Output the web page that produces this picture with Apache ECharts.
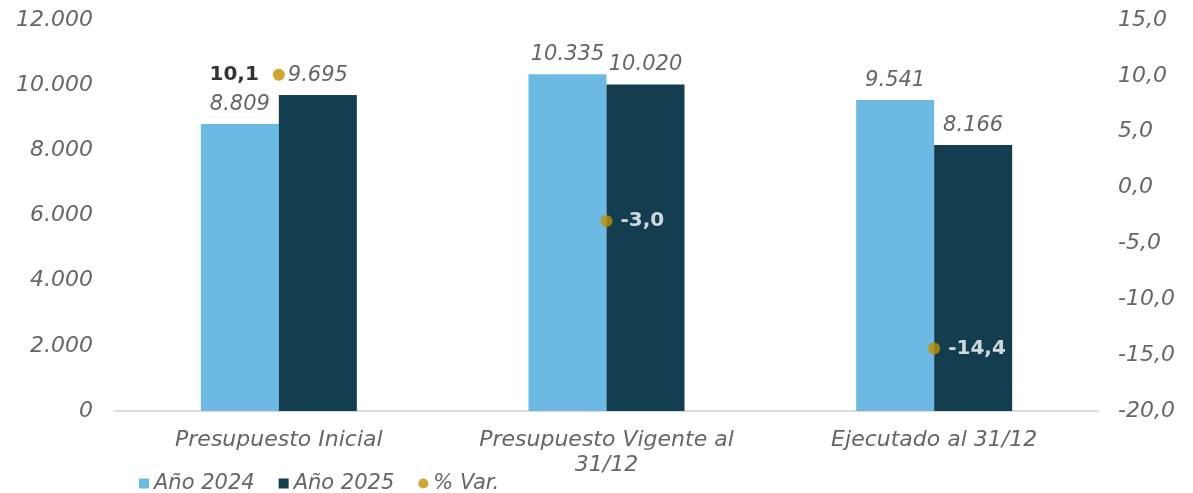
<!DOCTYPE html>
<html><head><meta charset="utf-8">
<script src="https://cdn.jsdelivr.net/npm/echarts@6/dist/echarts.min.js"></script>
<style>html,body{margin:0;padding:0;background:#fff}#c{width:1193px;height:493px}</style>
</head><body><div id="c"></div>
<script>
const categories = ['Presupuesto Inicial', 'Presupuesto Vigente al\n31/12', 'Ejecutado al 31/12'];
const serie2024 = [8809, 10335, 9541];
const serie2025 = [9695, 10020, 8166];
const varPct = [10.1, -3.0, -14.4];
const leftTicks = [0, 2000, 4000, 6000, 8000, 10000, 12000];
const rightTicks = [-20, -15, -10, -5, 0, 5, 10, 15];

function fmtThousands(v){ return String(Math.round(v)).replace(/\B(?=(\d{3})+(?!\d))/g, '.'); }
function fmtDec(v){ return v.toFixed(1).replace('.', ','); }

const FONT = '"DejaVu Sans", sans-serif';
const GREY = '#666666';
const chart = echarts.init(document.getElementById('c'));
chart.setOption({
  animation: false,
  textStyle: { fontFamily: FONT },
  grid: { left: 115, right: 95, top: 20, bottom: 82 },
  legend: {
    left: 134, top: 468, itemWidth: 10, itemHeight: 10, itemGap: 24,
    textStyle: { fontSize: 21, fontStyle: 'italic', color: GREY, fontFamily: FONT },
    data: [{name:'Año 2024', icon:'rect'}, {name:'Año 2025', icon:'rect'}, {name:'% Var.', icon:'circle'}]
  },
  xAxis: {
    type: 'category', data: categories,
    axisLine: { lineStyle: { color: '#d0d0d0', width: 1.5 } },
    axisTick: { show: false },
    axisLabel: { fontSize: 22, fontStyle: 'italic', color: GREY, margin: 17, lineHeight: 25, interval: 0 }
  },
  yAxis: [{
    type: 'value', min: 0, max: 12000, interval: 2000,
    splitLine: { show: false }, axisLine: { show: false }, axisTick: { show: false },
    axisLabel: { fontSize: 22, fontStyle: 'italic', color: GREY, margin: 22, formatter: v => fmtThousands(v) }
  }, {
    type: 'value', min: -20, max: 15, interval: 5,
    splitLine: { show: false }, axisLine: { show: false }, axisTick: { show: false },
    axisLabel: { fontSize: 22, fontStyle: 'italic', color: GREY, margin: 20, formatter: v => fmtDec(v) }
  }],
  series: [{
    name: 'Año 2024', type: 'bar', data: serie2024, barWidth: 78, barGap: '0%',
    itemStyle: { color: '#6CB9E4' },
    label: { show: true, position: 'top', distance: 9, fontSize: 21, fontStyle: 'italic', color: GREY, formatter: p => fmtThousands(p.value) }
  }, {
    name: 'Año 2025', type: 'bar', data: serie2025, barWidth: 78,
    itemStyle: { color: '#123E50' },
    label: { show: true, position: 'top', distance: 9, fontSize: 21, fontStyle: 'italic', color: GREY, formatter: p => fmtThousands(p.value) }
  }, {
    name: '% Var.', type: 'scatter', yAxisIndex: 1, symbolSize: 12,
    itemStyle: { color: '#C09000' },
    data: varPct.map((v, i) => ({
      value: v,
      label: i === 0
        ? { show: true, position: 'left', distance: 14, color: '#000', fontWeight: 'bold', fontSize: 20, formatter: p => fmtDec(p.value) }
        : { show: true, position: 'right', distance: 8, color: '#fff', fontWeight: 'bold', fontSize: 20, formatter: p => fmtDec(p.value) }
    }))
  }]
});
</script></body></html>
